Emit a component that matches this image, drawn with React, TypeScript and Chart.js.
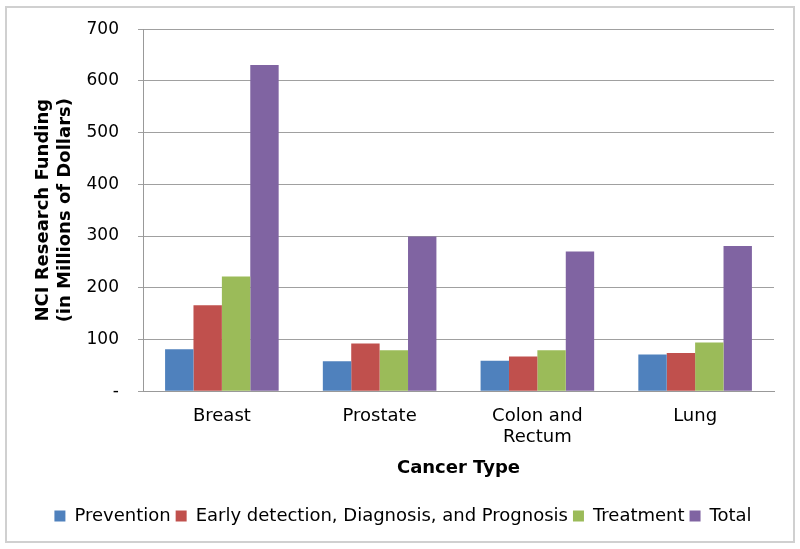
import React, { useEffect, useRef } from "react";
import { Chart, registerables } from "chart.js";

Chart.register(...registerables);

const categories: (string | string[])[] = ["Breast", "Prostate", ["Colon and", "Rectum"], "Lung"];
const prevention = [81, 58, 59, 71];
const earlyDetection = [166, 92, 67, 74];
const treatment = [222, 79, 79, 94];
const total = [631, 299, 270, 281];
const seriesNames = ["Prevention", "Early detection, Diagnosis, and Prognosis", "Treatment", "Total"];
const seriesColors = ["#4F81BD", "#C0504D", "#9BBB59", "#8064A2"];
const yTitle = ["NCI Research Funding", "(in Millions of Dollars)"];
const xTitle = "Cancer Type";

export default function App() {
  const ref = useRef<HTMLCanvasElement | null>(null);
  useEffect(() => {
    if (!ref.current) return;
    const font = "'DejaVu Sans', Verdana, sans-serif";
    const values = [prevention, earlyDetection, treatment, total];
    const chart = new Chart(ref.current, {
      type: "bar",
      data: {
        labels: categories,
        datasets: values.map((v, i) => ({
          label: seriesNames[i],
          data: v,
          backgroundColor: seriesColors[i],
          borderWidth: 0,
          categoryPercentage: 0.72,
          barPercentage: 1,
        })),
      },
      options: {
        animation: false,
        responsive: false,
        maintainAspectRatio: false,
        layout: { padding: { left: 32, right: 26, top: 16, bottom: 14 } },
        plugins: {
          tooltip: { enabled: false },
          legend: {
            position: "bottom",
            labels: {
              boxWidth: 11,
              boxHeight: 11,
              padding: 5,
              color: "#000",
              font: { family: font, size: 18 },
            },
          },
        },
        scales: {
          x: {
            grid: { display: false },
            border: { display: true, color: "#999", width: 1 },
            ticks: { color: "#000", font: { family: font, size: 18 }, padding: 6, maxRotation: 0 },
            title: {
              display: true,
              text: xTitle,
              color: "#000",
              font: { family: font, size: 18, weight: "bold" },
              padding: { top: 3, bottom: 23 },
            },
          },
          y: {
            min: 0,
            max: 700,
            afterFit: (scale: any) => {
              scale.width = 111;
            },
            ticks: {
              stepSize: 100,
              color: "#000",
              font: { family: font, size: 17 },
              padding: 19,
              callback: (v: any) => (Number(v) === 0 ? "-" : String(v)),
            },
            grid: { color: "#a0a0a0", lineWidth: 1, tickLength: 5 },
            border: { display: true, color: "#999", width: 1 },
            title: {
              display: true,
              text: yTitle,
              color: "#000",
              font: { family: font, size: 18, weight: "bold", lineHeight: 1.22 },
              padding: { top: 0, bottom: 0 },
            },
          },
        },
      },
    });
    return () => chart.destroy();
  }, []);

  return (
    <div style={{ position: "fixed", left: 0, top: 0, width: 800, height: 549, background: "#fff" }}>
      <canvas ref={ref} width={800} height={549} style={{ position: "absolute", left: 0, top: 0, width: 800, height: 549 }} />
      <div
        style={{
          position: "absolute",
          left: 5,
          top: 6,
          width: 786,
          height: 533,
          border: "2px solid #d0d0d0",
          pointerEvents: "none",
        }}
      />
    </div>
  );
}
